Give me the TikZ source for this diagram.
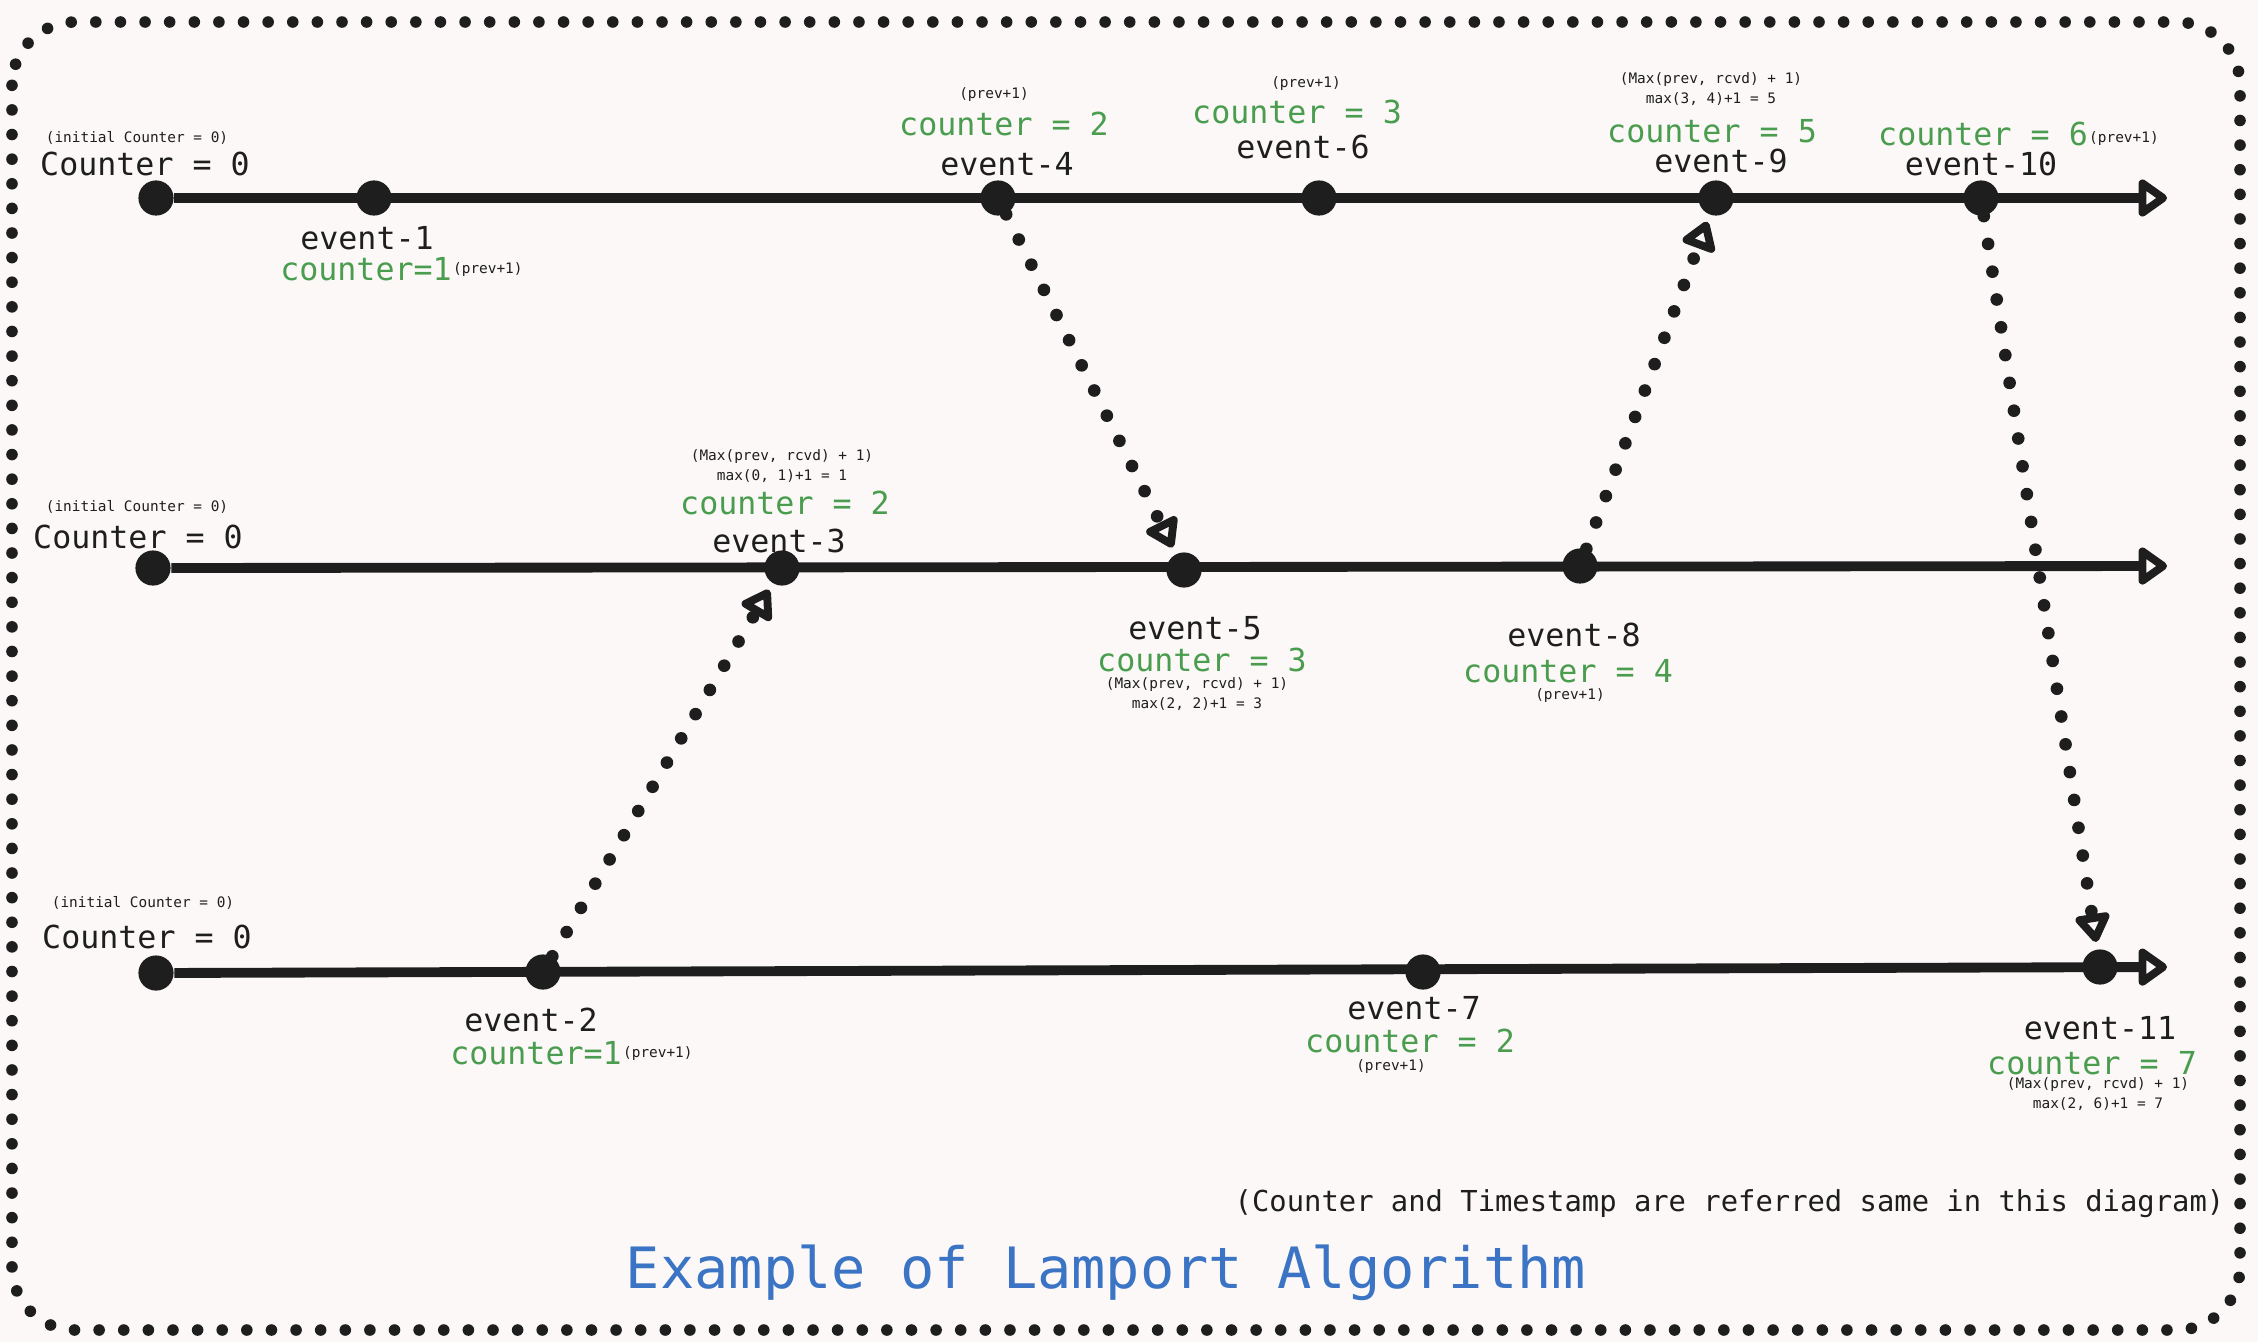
\documentclass[tikz,border=0pt]{standalone}
\usepackage{fontspec}
\setmainfont{DejaVu Sans Mono}
\usetikzlibrary{arrows.meta}
\definecolor{ink}{HTML}{1E1E1E}
\definecolor{paper}{HTML}{FBF8F7}
\definecolor{cgreen}{HTML}{4A9D4E}
\definecolor{tblue}{HTML}{3B74C4}

\tikzset{
  evdot/.style={circle, fill=ink, inner sep=0pt, minimum size=10pt},
  timeline/.style={draw=ink, line width=2.8pt, -{Triangle[open, round, length=9pt, width=12pt]}},
  msg/.style={draw=ink, line width=3.6pt, line cap=round, dash pattern=on 0pt off 8pt,
    -{Triangle[open, round, length=9pt, width=11pt, line width=2.6pt]}, shorten >=2pt},
  evname/.style={text=ink, inner sep=0pt, font=\fontsize{9}{10}\selectfont},
  cnt/.style={text=cgreen, inner sep=0pt, font=\fontsize{9}{10}\selectfont},
  tiny/.style={text=ink, inner sep=0pt, align=center, font=\fontsize{4.1}{5.7}\selectfont},
}

\begin{document}
\begin{tikzpicture}[x=0.01cm, y=-0.01cm]
  \fill[paper] (0,0) rectangle (2258,1342);
  \draw[ink, line width=3.3pt, line cap=round, dash pattern=on 0pt off 7pt, rounded corners=18pt]
    (12,22) rectangle (2240,1330);

  % process 1
  \node[evdot] (s1) at (156,198) {};
  \node[evdot] (e1) at (374,198) {};
  \node[evdot] (e4) at (998,198) {};
  \node[evdot] (e6) at (1319,198) {};
  \node[evdot] (e9) at (1716,198) {};
  \node[evdot] (e10) at (1981,198) {};
  \coordinate (t1) at (2167,198);
  \draw[timeline] (s1) -- (t1);

  % process 2
  \node[evdot] (s2) at (153,568) {};
  \node[evdot] (e3) at (782,568) {};
  \node[evdot] (e5) at (1184,570) {};
  \node[evdot] (e8) at (1580,566) {};
  \coordinate (t2) at (2167,566);
  \draw[timeline] (s2) -- (t2);

  % process 3
  \node[evdot] (s3) at (156,973) {};
  \node[evdot] (e2) at (543,972) {};
  \node[evdot] (e7) at (1423,972) {};
  \node[evdot] (e11) at (2100,967) {};
  \coordinate (t3) at (2167,967);
  \draw[timeline] (s3) -- (t3);

  % messages
  \draw[msg] (e4) -- (e5);
  \draw[msg] (e2) -- (e3);
  \draw[msg] (e8) -- (e9);
  \draw[msg] (e10) -- (e11);

  % labels, process 1
  \node[tiny] (i1) at (137,138) {(initial Counter = 0)};
  \node[evname] (c1) at (145,164) {Counter = 0};
  \node[evname] (n1) at (367,238) {event-1};
  \node[cnt] (k1) at (366,269) {counter=1};
  \node[tiny, anchor=base west, yshift=2pt] (p1) at (k1.base east) {(prev+1)};
  \node[tiny] (p4) at (994,95) {(prev+1)};
  \node[cnt] (k4) at (1004,124) {counter = 2};
  \node[evname] (n4) at (1007,164) {event-4};
  \node[tiny] (p6) at (1306,84) {(prev+1)};
  \node[cnt] (k6) at (1297,112) {counter = 3};
  \node[evname] (n6) at (1303,147) {event-6};
  \node[tiny] (m9) at (1711,89) {(Max(prev, rcvd) + 1)\\max(3, 4)+1 = 5};
  \node[cnt] (k9) at (1712,131) {counter = 5};
  \node[evname] (n9) at (1721,161) {event-9};
  \node[cnt] (k10) at (1983,134) {counter = 6};
  \node[tiny, anchor=base west, yshift=1pt] (p10) at (k10.base east) {(prev+1)};
  \node[evname] (n10) at (1981,164) {event-10};

  % labels, process 2
  \node[tiny] (i2) at (137,507) {(initial Counter = 0)};
  \node[evname] (c2) at (138,537) {Counter = 0};
  \node[tiny] (m3) at (782,466) {(Max(prev, rcvd) + 1)\\max(0, 1)+1 = 1};
  \node[cnt] (k3) at (785,503) {counter = 2};
  \node[evname] (n3) at (779,541) {event-3};
  \node[evname] (n5) at (1195,628) {event-5};
  \node[cnt] (k5) at (1202,660) {counter = 3};
  \node[tiny] (m5) at (1197,694) {(Max(prev, rcvd) + 1)\\max(2, 2)+1 = 3};
  \node[evname] (n8) at (1574,635) {event-8};
  \node[cnt] (k8) at (1568,671) {counter = 4};
  \node[tiny] (p8) at (1570,696) {(prev+1)};

  % labels, process 3
  \node[tiny] (i3) at (143,903) {(initial Counter = 0)};
  \node[evname] (c3) at (147,937) {Counter = 0};
  \node[evname] (n2) at (531,1020) {event-2};
  \node[cnt] (k2) at (536,1053) {counter=1};
  \node[tiny, anchor=base west, yshift=2pt] (p2) at (k2.base east) {(prev+1)};
  \node[evname] (n7) at (1414,1008) {event-7};
  \node[cnt] (k7) at (1410,1041) {counter = 2};
  \node[tiny] (p7) at (1391,1067) {(prev+1)};
  \node[evname] (n11) at (2100,1028) {event-11};
  \node[cnt] (k11) at (2092,1063) {counter = 7};
  \node[tiny] (m11) at (2098,1094) {(Max(prev, rcvd) + 1)\\max(2, 6)+1 = 7};

  % footer
  \node[text=ink, inner sep=0pt, anchor=east, font=\fontsize{8.2}{10}\selectfont] (note) at (2225,1204)
    {(Counter and Timestamp are referred same in this diagram)};
  \node[text=tblue, inner sep=0pt, font=\fontsize{16.2}{18}\selectfont] (title) at (1106,1273)
    {Example of Lamport Algorithm};
\end{tikzpicture}
\end{document}
